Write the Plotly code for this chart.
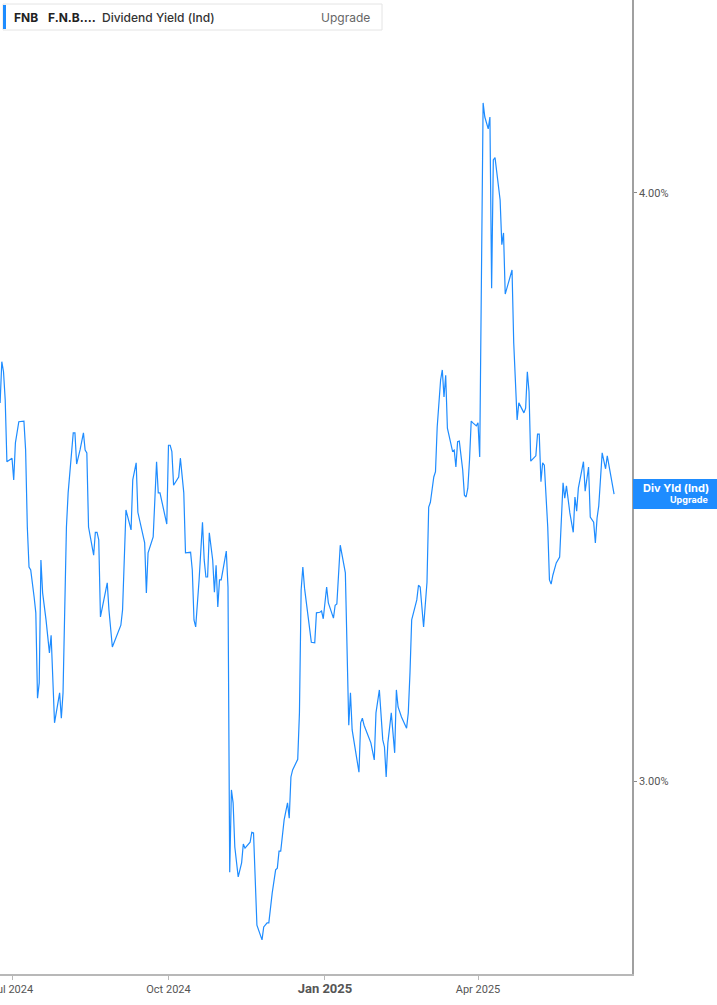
import plotly.graph_objects as go

dates = [
"2024-06-24","2024-06-25","2024-06-26","2024-06-27","2024-06-28","2024-06-30","2024-07-01","2024-07-02","2024-07-03","2024-07-05",
"2024-07-08","2024-07-09","2024-07-10","2024-07-11","2024-07-12","2024-07-14","2024-07-15","2024-07-16","2024-07-17","2024-07-18",
"2024-07-19","2024-07-21","2024-07-23","2024-07-24","2024-07-25","2024-07-26","2024-07-29","2024-07-30","2024-07-31","2024-08-02",
"2024-08-03","2024-08-05","2024-08-06","2024-08-07","2024-08-08","2024-08-10","2024-08-12","2024-08-13","2024-08-14","2024-08-15",
"2024-08-18","2024-08-19","2024-08-20","2024-08-21","2024-08-22","2024-08-26","2024-08-27","2024-08-29","2024-09-03","2024-09-04",
"2024-09-06","2024-09-09","2024-09-10","2024-09-12","2024-09-13","2024-09-17","2024-09-18","2024-09-19","2024-09-22","2024-09-24",
"2024-09-25","2024-09-26","2024-09-30","2024-10-01","2024-10-02","2024-10-03","2024-10-04","2024-10-07","2024-10-08","2024-10-10",
"2024-10-11","2024-10-14","2024-10-15","2024-10-16","2024-10-17","2024-10-19","2024-10-21","2024-10-22","2024-10-23","2024-10-24",
"2024-10-25","2024-10-27","2024-10-28","2024-10-29","2024-10-30","2024-10-31","2024-11-01","2024-11-04","2024-11-05","2024-11-06",
"2024-11-07","2024-11-08","2024-11-09","2024-11-11","2024-11-13","2024-11-14","2024-11-15","2024-11-18","2024-11-19","2024-11-20",
"2024-11-22","2024-11-25","2024-11-26","2024-11-28","2024-11-29","2024-12-01","2024-12-03","2024-12-04","2024-12-05","2024-12-06",
"2024-12-08","2024-12-10","2024-12-11","2024-12-12","2024-12-13","2024-12-16","2024-12-17","2024-12-18","2024-12-19","2024-12-20",
"2024-12-22","2024-12-24","2024-12-26","2024-12-27","2024-12-29","2024-12-30","2024-12-31","2025-01-02","2025-01-03","2025-01-06",
"2025-01-07","2025-01-08","2025-01-10","2025-01-13","2025-01-15","2025-01-16","2025-01-17","2025-01-21","2025-01-22","2025-01-23",
"2025-01-24","2025-01-27","2025-01-28","2025-01-30","2025-01-31","2025-02-02","2025-02-04","2025-02-05","2025-02-06","2025-02-07",
"2025-02-09","2025-02-11","2025-02-12","2025-02-13","2025-02-15","2025-02-18","2025-02-19","2025-02-20","2025-02-21","2025-02-24",
"2025-02-25","2025-02-26","2025-02-28","2025-03-02","2025-03-03","2025-03-04","2025-03-06","2025-03-07","2025-03-08","2025-03-10",
"2025-03-11","2025-03-12","2025-03-13","2025-03-14","2025-03-16","2025-03-17","2025-03-18","2025-03-19","2025-03-20","2025-03-21",
"2025-03-23","2025-03-24","2025-03-25","2025-03-26","2025-03-27","2025-03-28","2025-03-29","2025-03-31","2025-04-01","2025-04-02",
"2025-04-04","2025-04-05","2025-04-07","2025-04-08","2025-04-09","2025-04-10","2025-04-11","2025-04-14","2025-04-15","2025-04-16",
"2025-04-17","2025-04-21","2025-04-22","2025-04-24","2025-04-25","2025-04-28","2025-04-29","2025-04-30","2025-05-01","2025-05-02",
"2025-05-05","2025-05-06","2025-05-07","2025-05-08","2025-05-09","2025-05-10","2025-05-12","2025-05-13","2025-05-14","2025-05-15",
"2025-05-17","2025-05-19","2025-05-21","2025-05-22","2025-05-23","2025-05-25","2025-05-27","2025-05-28","2025-05-29","2025-05-30",
"2025-06-02","2025-06-03","2025-06-05","2025-06-06","2025-06-08","2025-06-09","2025-06-10","2025-06-11","2025-06-13","2025-06-15",
"2025-06-16","2025-06-18","2025-06-20"]

div_yield = [
3.643, 3.713, 3.696, 3.648, 3.543, 3.548, 3.549, 3.512, 3.575, 3.611,
3.612, 3.563, 3.432, 3.364, 3.359, 3.313, 3.286, 3.141, 3.167, 3.376,
3.320, 3.274, 3.218, 3.248, 3.160, 3.099, 3.150, 3.107, 3.150, 3.432,
3.490, 3.568, 3.592, 3.592, 3.539, 3.563, 3.592, 3.563, 3.558, 3.432,
3.384, 3.423, 3.423, 3.410, 3.279, 3.337, 3.291, 3.228, 3.265, 3.291,
3.461, 3.427, 3.512, 3.541, 3.457, 3.405, 3.320, 3.388, 3.415, 3.543,
3.490, 3.490, 3.437, 3.571, 3.571, 3.560, 3.503, 3.517, 3.549, 3.490,
3.388, 3.389, 3.359, 3.274, 3.262, 3.342, 3.440, 3.376, 3.347, 3.347,
3.422, 3.376, 3.321, 3.367, 3.296, 3.342, 3.342, 3.391, 3.330, 2.845,
2.985, 2.963, 2.888, 2.837, 2.861, 2.893, 2.886, 2.896, 2.913, 2.912,
2.755, 2.730, 2.752, 2.759, 2.759, 2.810, 2.849, 2.852, 2.881, 2.881,
2.934, 2.963, 2.937, 3.007, 3.019, 3.037, 3.116, 3.325, 3.364, 3.328,
3.279, 3.236, 3.235, 3.286, 3.287, 3.289, 3.276, 3.330, 3.303, 3.277,
3.299, 3.301, 3.401, 3.354, 3.095, 3.150, 3.087, 3.015, 3.099, 3.107,
3.095, 3.073, 3.065, 3.036, 3.116, 3.155, 3.070, 3.058, 3.007, 3.065,
3.116, 3.048, 3.155, 3.126, 3.109, 3.090, 3.116, 3.184, 3.274, 3.308,
3.333, 3.330, 3.262, 3.338, 3.466, 3.474, 3.517, 3.526, 3.602, 3.682,
3.699, 3.653, 3.690, 3.600, 3.575, 3.561, 3.563, 3.534, 3.577, 3.578,
3.529, 3.486, 3.483, 3.498, 3.546, 3.612, 3.609, 3.604, 3.609, 3.551,
4.153, 4.129, 4.109, 4.129, 3.838, 4.056, 4.060, 3.988, 3.912, 3.932,
3.828, 3.869, 3.745, 3.614, 3.643, 3.626, 3.634, 3.696, 3.662, 3.544,
3.553, 3.590, 3.590, 3.509, 3.541, 3.537, 3.432, 3.342, 3.335, 3.350,
3.371, 3.381, 3.507, 3.481, 3.502, 3.456, 3.423, 3.483, 3.459, 3.498,
3.543, 3.493, 3.534, 3.449, 3.440, 3.405, 3.447, 3.468, 3.558, 3.531,
3.553, 3.520, 3.488]

x_tick_vals = ["2024-07-01", "2024-10-01", "2025-01-01", "2025-04-01"]
x_tick_text = ["Jul 2024", "Oct 2024", "<b><span style='font-size:13px'>Jan 2025</span></b>", "Apr 2025"]
y_tick_vals = [3.0, 4.0]
y_tick_text = ["3.00%", "4.00%"]

x_range = ["2024-06-23 22:30", "2025-06-30 13:00"]
y_range = [2.672, 4.328]

LINE = "#1e8cff"
W, H = 717, 1005
ML, MR, MT, MB = 0, 85, 0, 31
PW = W - ML - MR
PH = H - MT - MB

def px(x):
    return x / PW

def py(y):
    return 1 - y / PH

fig = go.Figure()
fig.add_trace(go.Scatter(
    x=dates, y=div_yield, mode="lines",
    line=dict(color=LINE, width=1.2),
    showlegend=False, hoverinfo="skip",
))

last = div_yield[-1]
half = 15 / PH * (y_range[1] - y_range[0])

shapes = [
    dict(type="rect", xref="paper", yref="paper",
         x0=px(3), x1=px(382), y0=py(30), y1=py(4),
         line=dict(color="#e4e4e4", width=1), fillcolor="white", layer="above"),
    dict(type="rect", xref="paper", yref="paper",
         x0=px(3), x1=px(6), y0=py(29), y1=py(5),
         line=dict(width=0), fillcolor=LINE, layer="above"),
    dict(type="rect", xref="paper", yref="y",
         x0=px(633), x1=px(717), y0=last - half, y1=last + half,
         line=dict(width=0), fillcolor=LINE, layer="above"),
]

annotations = [
    dict(xref="paper", yref="paper", x=px(12), y=py(17), xanchor="left", yanchor="middle",
         text="<b>FNB</b>", showarrow=False, font=dict(family="Inter", size=12, color="#222")),
    dict(xref="paper", yref="paper", x=px(46), y=py(17), xanchor="left", yanchor="middle",
         text="<b>F.N.B.…</b>", showarrow=False, font=dict(family="Inter", size=12, color="#222")),
    dict(xref="paper", yref="paper", x=px(100), y=py(17), xanchor="left", yanchor="middle",
         text="Dividend Yield (Ind)", showarrow=False,
         font=dict(family="Inter", size=12, color="#333", weight=500)),
    dict(xref="paper", yref="paper", x=px(319), y=py(17), xanchor="left", yanchor="middle",
         text="Upgrade", showarrow=False, font=dict(family="Inter", size=12, color="#666")),
    dict(xref="paper", yref="y", x=px(676), y=last + half * 0.38, xanchor="center", yanchor="middle",
         text="<b>Div Yld (Ind)</b>", showarrow=False, font=dict(family="Inter", size=11, color="white")),
    dict(xref="paper", yref="y", x=px(710), y=last - half * 0.38, xanchor="right", yanchor="middle",
         text="<b>Upgrade</b>", showarrow=False, font=dict(family="Inter", size=9, color="white")),
]

fig.update_layout(
    width=W, height=H,
    margin=dict(l=ML, r=MR, t=MT, b=MB, autoexpand=False),
    paper_bgcolor="white", plot_bgcolor="white",
    shapes=shapes, annotations=annotations,
    xaxis=dict(
        type="date", range=x_range,
        tickvals=x_tick_vals, ticktext=x_tick_text,
        ticklabeloverflow="allow",
        showgrid=False, zeroline=False,
        showline=True, linecolor="#b8b8b8", linewidth=1.5,
        ticks="outside", ticklen=4, tickcolor="#b8b8b8",
        tickfont=dict(family="Roboto", size=11, color="#555"),
    ),
    yaxis=dict(
        side="right", range=y_range,
        tickvals=y_tick_vals, ticktext=y_tick_text,
        showgrid=False, zeroline=False,
        showline=True, linecolor="#a0a0a0", linewidth=1.5,
        ticks="outside", ticklen=3, tickcolor="#888",
        tickfont=dict(family="Roboto", size=11, color="#555"),
    ),
)

fig.write_html("out.html", config={"displayModeBar": False},
               post_script="document.body.style.margin='0';")
